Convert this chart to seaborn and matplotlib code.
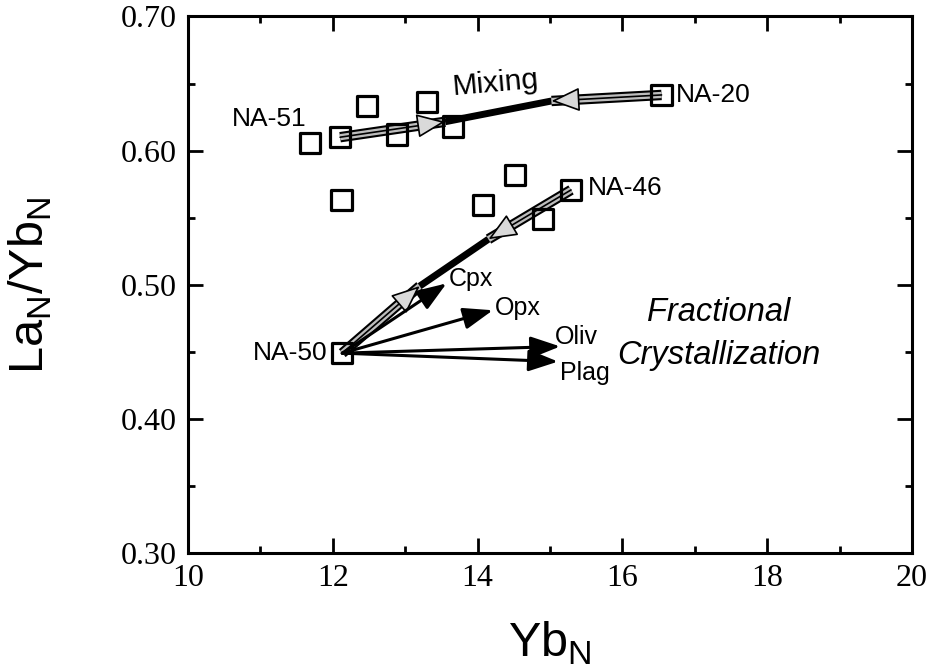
import matplotlib
matplotlib.use("Agg")
import matplotlib.pyplot as plt
import matplotlib.patheffects as pe
from matplotlib.ticker import MultipleLocator
import seaborn as sns
import pandas as pd

# ---- data ----
yb_n = [11.69, 12.10, 12.47, 12.89, 13.30, 13.66, 16.54, 12.12, 14.07, 14.52, 14.90, 15.29, 12.13]
la_yb = [0.606, 0.610, 0.633, 0.612, 0.636, 0.618, 0.6415, 0.563, 0.5595, 0.582, 0.549, 0.5707, 0.449]

mix_x = [12.10, 13.55, 15.02, 16.54]
mix_y = [0.610, 0.6215, 0.637, 0.6415]
fc_x = [12.13, 13.20, 14.15, 15.29]
fc_y = [0.449, 0.499, 0.534, 0.5707]

origin = (12.13, 0.449)
minerals = ["Cpx", "Opx", "Oliv", "Plag"]
min_x = [13.57, 14.21, 15.14, 15.11]
min_y = [0.501, 0.481, 0.454, 0.4427]
min_lab_x = [13.60, 14.24, 15.07, 15.14]
min_lab_y = [0.504, 0.483, 0.461, 0.434]

sample_labels = ["NA-51", "NA-20", "NA-46", "NA-50"]
sample_lab_x = [11.64, 16.74, 15.52, 11.92]
sample_lab_y = [0.6235, 0.6415, 0.572, 0.449]
sample_lab_ha = ["right", "left", "left", "right"]

xticks = [10, 12, 14, 16, 18, 20]
yticks = [0.30, 0.40, 0.50, 0.60, 0.70]
ytick_labels = ["0.30", "0.40", "0.50", "0.60", "0.70"]

# ---- style ----
sns.set_theme(style="ticks")
plt.rcParams["font.family"] = ["Liberation Sans", "DejaVu Sans"]
plt.rcParams["mathtext.fontset"] = "custom"
plt.rcParams["mathtext.rm"] = "Liberation Sans"
plt.rcParams["text.color"] = "black"
plt.rcParams["axes.labelcolor"] = "black"
plt.rcParams["xtick.color"] = "black"
plt.rcParams["ytick.color"] = "black"
plt.rcParams["xtick.labelcolor"] = "black"
plt.rcParams["ytick.labelcolor"] = "black"

fig = plt.figure(figsize=(9.31, 6.70), dpi=100)
ax = fig.add_axes([0.202, 0.1746, 0.7776, 0.8008])

band = [pe.Stroke(linewidth=7.5, foreground="black"), pe.Normal()]
gray = "#bdbdbd"

# mixing curve
ax.plot(mix_x[0:2], mix_y[0:2], color=gray, lw=4.5, path_effects=band, solid_capstyle="butt", zorder=2)
ax.plot(mix_x[1:3], mix_y[1:3], color="black", lw=5, solid_capstyle="butt", zorder=2)
ax.plot(mix_x[2:4], mix_y[2:4], color=gray, lw=4.5, path_effects=band, solid_capstyle="butt", zorder=2)
# fractional crystallization curve
ax.plot(fc_x[0:2], fc_y[0:2], color=gray, lw=4.5, path_effects=band, solid_capstyle="butt", zorder=2)
ax.plot(fc_x[1:3], fc_y[1:3], color="black", lw=5, solid_capstyle="butt", zorder=2)
ax.plot(fc_x[2:4], fc_y[2:4], color=gray, lw=4.5, path_effects=band, solid_capstyle="butt", zorder=2)

head_props = dict(arrowstyle="-|>,head_length=0.9,head_width=0.38", fc="#d9d9d9", ec="black",
                  lw=1.2, shrinkA=0, shrinkB=0, mutation_scale=20)
ax.annotate("", xy=(mix_x[1], mix_y[1]), xytext=(mix_x[0], mix_y[0]), arrowprops=head_props, zorder=3)
ax.annotate("", xy=(mix_x[2], mix_y[2]), xytext=(mix_x[3], mix_y[3]), arrowprops=head_props, zorder=3)
ax.annotate("", xy=(fc_x[1], fc_y[1]), xytext=(fc_x[0], fc_y[0]), arrowprops=head_props, zorder=3)
ax.annotate("", xy=(fc_x[2], fc_y[2]), xytext=(fc_x[3], fc_y[3]), arrowprops=head_props, zorder=3)

# mineral vectors
for m, x, y, lx, ly in zip(minerals, min_x, min_y, min_lab_x, min_lab_y):
    ax.annotate("", xy=(x, y), xytext=origin,
                arrowprops=dict(arrowstyle="-|>,head_length=0.9,head_width=0.33", fc="black", ec="black",
                                lw=2.2, shrinkA=0, shrinkB=0, mutation_scale=20), zorder=4)
    ax.text(lx, ly, m, fontsize=18, ha="left", va="center", color="black", zorder=6)

# samples
df = pd.DataFrame({"YbN": yb_n, "LaYb": la_yb})
sns.scatterplot(data=df, x="YbN", y="LaYb", marker="s", s=210, facecolor="none",
                edgecolor="black", linewidth=2.3, ax=ax, zorder=5, legend=False)

for t, x, y, ha in zip(sample_labels, sample_lab_x, sample_lab_y, sample_lab_ha):
    ax.text(x, y, t, fontsize=19, ha=ha, va="center", color="black", zorder=6)

ax.text(14.24, 0.650, "Mixing", fontsize=21.5, ha="center", va="center", rotation=5, color="black")
ax.text(17.33, 0.479, "Fractional", fontsize=23.5, style="italic", ha="center", va="center", color="black")
ax.text(17.33, 0.447, "Crystallization", fontsize=23.5, style="italic", ha="center", va="center", color="black")

# axes
ax.set_xlim(10, 20)
ax.set_ylim(0.30, 0.70)
ax.set_xticks(xticks, [str(v) for v in xticks], fontfamily="Liberation Serif", fontsize=23, color="black")
ax.set_yticks(yticks, ytick_labels, fontfamily="Liberation Serif", fontsize=23, color="black")
ax.xaxis.set_minor_locator(MultipleLocator(1))
ax.yaxis.set_minor_locator(MultipleLocator(0.05))
ax.tick_params(which="both", direction="in", top=True, right=True, width=2, color="black")
ax.tick_params(which="major", length=11, pad=8)
ax.tick_params(which="minor", length=5)
for s in ax.spines.values():
    s.set_linewidth(2.2)
    s.set_color("black")

ax.set_xlabel(r"Yb$_\mathregular{N}$", fontsize=35, color="black")
ax.set_ylabel(r"La$_\mathregular{N}$/Yb$_\mathregular{N}$", fontsize=35, color="black")
ax.xaxis.set_label_coords(0.5, -0.125)
ax.yaxis.set_label_coords(-0.185, 0.5)

fig.savefig("out.png", dpi=100)
